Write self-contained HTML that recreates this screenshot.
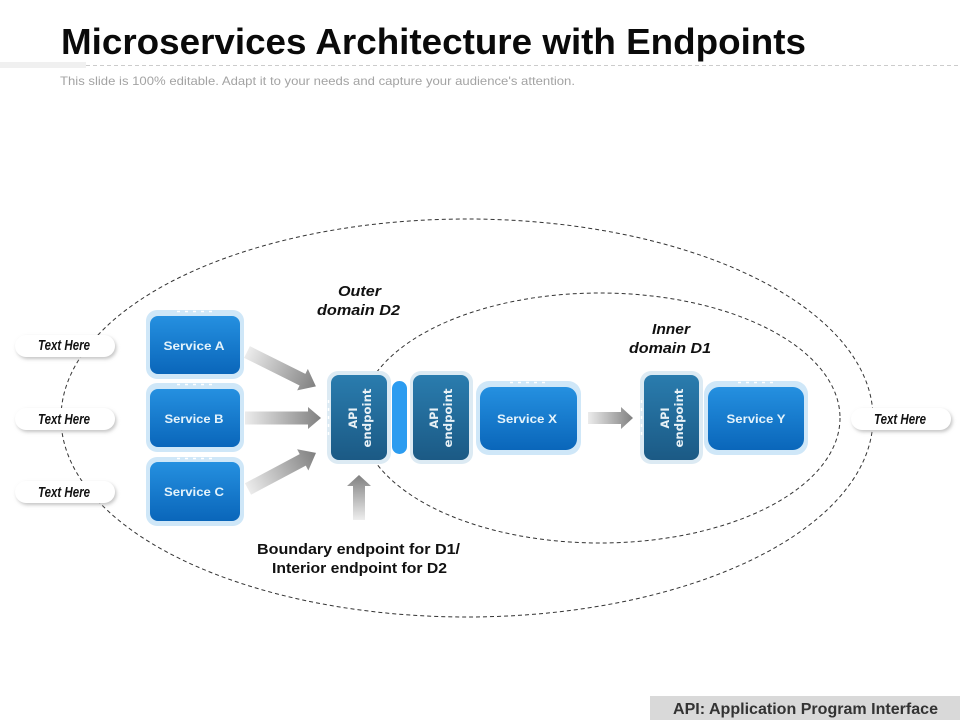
<!DOCTYPE html>
<html><head><meta charset="utf-8"><style>
html,body{margin:0;padding:0;background:#fff;width:960px;height:720px;overflow:hidden}
svg{display:block}
text{font-family:"Liberation Sans",sans-serif}
.sv{font-weight:700;font-size:12px;fill:#e4f3fb;text-anchor:middle}
.ap{font-family:"DejaVu Sans",sans-serif;font-weight:700;font-size:11.500px;fill:#e8f1f6;text-anchor:middle}
.th{font-weight:700;font-style:italic;font-size:14.500px;fill:#111;text-anchor:middle}
.lb{font-style:italic;font-weight:700;font-size:15px;fill:#111;text-anchor:middle}
.bd{font-weight:700;font-size:15px;fill:#111;text-anchor:middle}
</style></head><body>
<svg width="960" height="720" viewBox="0 0 960 720" xmlns="http://www.w3.org/2000/svg">
<defs>
<linearGradient id="b" x1="0" y1="0" x2="0" y2="1"><stop offset="0" stop-color="#2590e0"/><stop offset="1" stop-color="#0a66ba"/></linearGradient>
<linearGradient id="d" x1="0" y1="0" x2="0" y2="1"><stop offset="0" stop-color="#2a7cae"/><stop offset="1" stop-color="#1b5a85"/></linearGradient>
<linearGradient id="gh" x1="0" y1="0" x2="1" y2="0"><stop offset="0" stop-color="#ececec"/><stop offset="1" stop-color="#808080"/></linearGradient>
<linearGradient id="gv" x1="0" y1="1" x2="0" y2="0"><stop offset="0" stop-color="#eeeeee"/><stop offset="1" stop-color="#808080"/></linearGradient>
<filter id="s" x="-10%" y="-30%" width="125%" height="170%"><feDropShadow dx="1.500" dy="2" stdDeviation="1.800" flood-color="#aaa" flood-opacity=".7"/></filter>
</defs>

<text x="61" y="54" font-size="36.500" font-weight="700" fill="#0a0a0a" textLength="745" lengthAdjust="spacingAndGlyphs">Microservices Architecture with Endpoints</text>
<rect x="0" y="62" width="86" height="6" fill="#f0f0f0"/>
<line x1="86" y1="65.500" x2="960" y2="65.500" stroke="#ccc" stroke-dasharray="4 3"/>
<text x="60" y="85" font-size="12" fill="#a3a3a3" textLength="515" lengthAdjust="spacingAndGlyphs">This slide is 100% editable. Adapt it to your needs and capture your audience's attention.</text>

<ellipse cx="467" cy="418" rx="406" ry="199" fill="none" stroke="#333" stroke-width="1" stroke-dasharray="4 3"/>
<ellipse cx="600" cy="418" rx="240" ry="125" fill="none" stroke="#333" stroke-width="1" stroke-dasharray="4 3"/>

<g fill="#fff" filter="url(#s)">
<rect x="15" y="335" width="100" height="22" rx="11"/>
<rect x="15" y="408" width="100" height="22" rx="11"/>
<rect x="15" y="481" width="100" height="22" rx="11"/>
<rect x="851" y="408" width="100" height="22" rx="11"/>
</g>
<text class="th" x="64" y="350" textLength="52" lengthAdjust="spacingAndGlyphs">Text Here</text>
<text class="th" x="64" y="424" textLength="52" lengthAdjust="spacingAndGlyphs">Text Here</text>
<text class="th" x="64" y="497" textLength="52" lengthAdjust="spacingAndGlyphs">Text Here</text>
<text class="th" x="900" y="424" textLength="52" lengthAdjust="spacingAndGlyphs">Text Here</text>

<g fill="#cfe7f8">
<rect x="146" y="310" width="98" height="69" rx="11"/>
<rect x="146" y="383" width="98" height="69" rx="11"/>
<rect x="146" y="457" width="98" height="69" rx="11"/>
<rect x="476" y="381" width="105" height="74" rx="13"/>
<rect x="704" y="381" width="104" height="74" rx="13"/>
</g>
<g fill="#dceaf3">
<rect x="327" y="371" width="64" height="93" rx="11"/>
<rect x="410" y="371" width="63" height="93" rx="11"/>
<rect x="640" y="371" width="63" height="93" rx="11"/>
</g>
<g stroke="#fff" stroke-width="1.500" stroke-dasharray="3 5" fill="none">
<line x1="177" y1="311.500" x2="212" y2="311.500"/>
<line x1="177" y1="384.500" x2="212" y2="384.500"/>
<line x1="177" y1="458.500" x2="212" y2="458.500"/>
<line x1="510" y1="382.500" x2="545" y2="382.500"/>
<line x1="738" y1="382.500" x2="773" y2="382.500"/>
<line x1="328.500" y1="400" x2="328.500" y2="435"/>
<line x1="641.500" y1="400" x2="641.500" y2="435"/>
</g>
<g fill="url(#b)">
<rect x="150" y="316" width="90" height="58" rx="8"/>
<rect x="150" y="389" width="90" height="58" rx="8"/>
<rect x="150" y="462" width="90" height="59" rx="8"/>
<rect x="480" y="387" width="97" height="63" rx="11"/>
<rect x="708" y="387" width="96" height="63" rx="11"/>
</g>
<g fill="url(#d)">
<rect x="331" y="375" width="56" height="85" rx="8"/>
<rect x="413" y="375" width="56" height="85" rx="8"/>
<rect x="644" y="375" width="55" height="85" rx="8"/>
</g>
<rect x="392" y="381" width="15" height="73" rx="7.500" fill="#2c9cf0"/>

<text class="sv" x="194" y="350" textLength="61" lengthAdjust="spacingAndGlyphs">Service A</text>
<text class="sv" x="194" y="423" textLength="59" lengthAdjust="spacingAndGlyphs">Service B</text>
<text class="sv" x="194" y="496" textLength="60" lengthAdjust="spacingAndGlyphs">Service C</text>
<text class="sv" x="527" y="423" textLength="60" lengthAdjust="spacingAndGlyphs">Service X</text>
<text class="sv" x="756" y="423" textLength="59" lengthAdjust="spacingAndGlyphs">Service Y</text>

<g transform="translate(357 418) rotate(-90)"><text class="ap" x="0" y="0" textLength="21" lengthAdjust="spacingAndGlyphs">API</text><text class="ap" x="0" y="14" textLength="59" lengthAdjust="spacingAndGlyphs">endpoint</text></g>
<g transform="translate(438 418) rotate(-90)"><text class="ap" x="0" y="0" textLength="21" lengthAdjust="spacingAndGlyphs">API</text><text class="ap" x="0" y="14" textLength="59" lengthAdjust="spacingAndGlyphs">endpoint</text></g>
<g transform="translate(669 418) rotate(-90)"><text class="ap" x="0" y="0" textLength="21" lengthAdjust="spacingAndGlyphs">API</text><text class="ap" x="0" y="14" textLength="59" lengthAdjust="spacingAndGlyphs">endpoint</text></g>

<path d="M0 -6.500H62V-12L77 0L62 12V6.500H0Z" fill="url(#gh)" transform="translate(247 352) rotate(26.500)"/>
<path d="M0 -6.500H63V-11L76 0L63 11V6.500H0Z" fill="url(#gh)" transform="translate(245 418)"/>
<path d="M0 -6.500H62V-12L77 0L62 12V6.500H0Z" fill="url(#gh)" transform="translate(248 489) rotate(-28)"/>
<path d="M0 -6H33V-11L45 0L33 11V6H0Z" fill="url(#gh)" transform="translate(588 418)"/>
<path d="M353 520V486H347L359 475L371 486H365V520Z" fill="url(#gv)"/>

<text class="lb" x="359.500" y="296" textLength="43" lengthAdjust="spacingAndGlyphs">Outer</text>
<text class="lb" x="358.500" y="315" textLength="83" lengthAdjust="spacingAndGlyphs">domain D2</text>
<text class="lb" x="671" y="334" textLength="38" lengthAdjust="spacingAndGlyphs">Inner</text>
<text class="lb" x="670" y="353" textLength="82" lengthAdjust="spacingAndGlyphs">domain D1</text>
<text class="bd" x="358.500" y="554" textLength="203" lengthAdjust="spacingAndGlyphs">Boundary endpoint for D1/</text>
<text class="bd" x="359.500" y="573" textLength="175" lengthAdjust="spacingAndGlyphs">Interior endpoint for D2</text>

<rect x="650" y="696" width="310" height="24" fill="#d9d9d9"/>
<text x="673" y="714" font-size="15.500" font-weight="700" fill="#333" textLength="265" lengthAdjust="spacingAndGlyphs">API: Application Program Interface</text>
</svg>
</body></html>
